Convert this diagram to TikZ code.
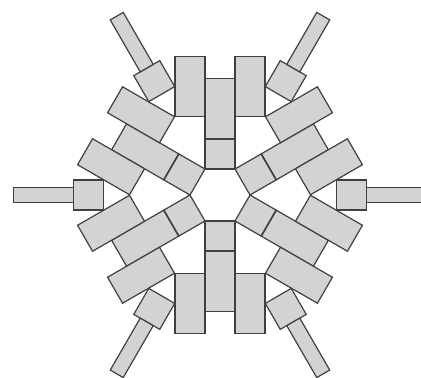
\documentclass[tikz,border=0pt]{standalone}
\usepackage{xcolor}
\usepackage{tikz}
\usetikzlibrary{calc}
\definecolor{lightgrey}{HTML}{D3D3D3}
\definecolor{darkline}{HTML}{404040}

\begin{document}
\begin{tikzpicture}[
  x=1pt,y=1pt,
  block/.style={draw=darkline,fill=lightgrey,line width=1.2pt,inner sep=0pt,outer sep=0pt,rotate=#1},
  longbox/.style={block=#1,minimum width=60pt,minimum height=30pt},
  squarebox/.style={block=#1,minimum width=30pt,minimum height=30pt},
  thinbox/.style={block=#1,minimum width=60pt,minimum height=15pt}
]
\useasboundingbox (-220,-183) rectangle (201,195);
\clip (-220,-183) rectangle (201,195);
% six faces of the hexagon
\foreach \a in {30,90,150,210,270,330} {
  \node[squarebox=\a] (inner\a) at (\a:41) {};
  \node[longbox=\a] (mid\a) at (\a:86.5) {};
  \node[longbox=\a] (left\a) at ($(\a:108.5)+(\a+90:30)$) {};
  \node[longbox=\a] (right\a) at ($(\a:108.5)+(\a-90:30)$) {};
}
% six arms at the corners
\foreach \a in {0,60,120,180,240,300} {
  \node[squarebox=\a] (hub\a) at (\a:131.5) {};
  \node[thinbox=\a] (arm\a) at (\a:176.5) {};
}
\end{tikzpicture}
\end{document}
